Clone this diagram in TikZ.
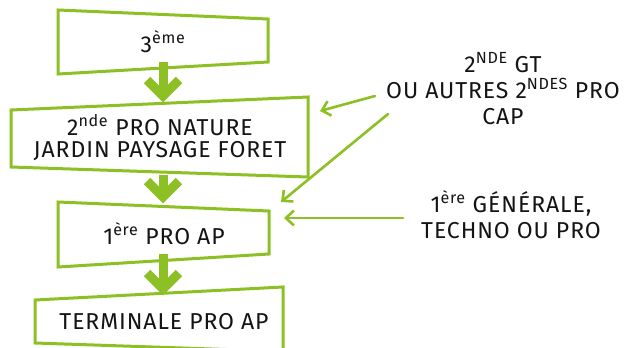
\documentclass[tikz,border=0pt]{standalone}
\usepackage{fontspec}
\setmainfont{Fira Sans}[LetterSpace=4]
\usetikzlibrary{arrows.meta}
\definecolor{grn}{RGB}{141,192,36}
\definecolor{ink}{RGB}{20,20,20}
\begin{document}
\begin{tikzpicture}[x=1pt,y=-1pt,
  box/.style={draw=grn, line width=3pt, line join=miter},
  lbl/.style={font=\fontsize{23}{22}\selectfont, text=ink, align=center, inner sep=0pt},
  side/.style={font=\fontsize{23}{26}\selectfont, text=ink, align=center, inner sep=0pt},
  bigshaft/.style={draw=grn, line width=9pt},
  bighead/.style={draw=grn, line width=9pt, line join=miter},
  thinarrow/.style={draw=grn, line width=2.6pt, line cap=round, -{Straight Barb[length=8pt,width=15pt,line width=2.6pt]}}]
\useasboundingbox (0,0) rectangle (624,348);
\fill[white] (0,0) rectangle (624,348);
% boxes
\draw[box] (58,10) -- (268,19) -- (268,62) -- (58,74) -- cycle;
\draw[box] (11,110) -- (308,97) -- (308,177) -- (11,167) -- cycle;
\draw[box] (58,202) -- (269,211) -- (269,254) -- (58,267) -- cycle;
\draw[box] (300,352) -- (35,343) -- (35,300) -- (283,287) -- (283,360);
% labels
\node[lbl] (n3) at (163,42) {3\textsuperscript{ème}};
\node[lbl] (n2) at (160,138) {2\textsuperscript{nde} PRO NATURE\\JARDIN PAYSAGE FORET};
\node[lbl] (n1) at (164,234) {1\textsuperscript{ère} PRO AP};
\node[lbl] (nt) at (164,322) {TERMINALE PRO AP};
\node[side] (gt) at (503,89) {2\textsuperscript{NDE} GT\\OU AUTRES 2\textsuperscript{NDES} PRO\\CAP};
\node[side] (gen) at (511,215) {1\textsuperscript{ère} GÉNÉRALE,\\TECHNO OU PRO};
% big arrows
\coordinate (a1s) at (163,62); \coordinate (a1e) at (163,94);
\draw[bigshaft] (a1s) -- (a1e);
\draw[bighead] (147,80) -- (163,96) -- (179,80);
\coordinate (a2s) at (163,175); \coordinate (a2e) at (163,195);
\draw[bigshaft] (a2s) -- (a2e);
\draw[bighead] (147,181) -- (163,197) -- (179,181);
\coordinate (a3s) at (163,254); \coordinate (a3e) at (163,287);
\draw[bigshaft] (a3s) -- (a3e);
\draw[bighead] (147,273) -- (163,289) -- (179,273);
% thin arrows
\coordinate (t1s) at (375,96); \coordinate (t1e) at (320,111);
\coordinate (t2s) at (388,114); \coordinate (t2e) at (281,202);
\coordinate (t3s) at (403,218); \coordinate (t3e) at (284,218);
\draw[thinarrow] (t1s) -- (t1e);
\draw[thinarrow] (t2s) -- (t2e);
\draw[thinarrow] (t3s) -- (t3e);
\end{tikzpicture}
\end{document}
